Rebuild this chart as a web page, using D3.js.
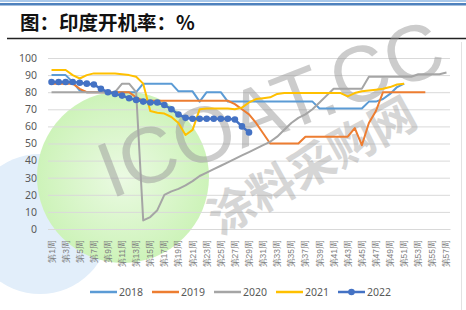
<!DOCTYPE html>
<html>
<head>
<meta charset="utf-8">
<script src="https://cdn.jsdelivr.net/npm/d3@7"></script>
<style>
  body { margin: 0; background: #fff; }
  svg { display: block; font-family: "Noto Sans CJK SC", "Noto Sans", sans-serif; }
</style>
</head>
<body>
<div id="chart"></div>
<script>
var weeks = [
  "第1周", "第2周", "第3周", "第4周", "第5周", "第6周", "第7周", "第8周", "第9周", "第10周",
  "第11周", "第12周", "第13周", "第14周", "第15周", "第16周", "第17周", "第18周", "第19周", "第20周",
  "第21周", "第22周", "第23周", "第24周", "第25周", "第26周", "第27周", "第28周", "第29周", "第30周",
  "第31周", "第32周", "第33周", "第34周", "第35周", "第36周", "第37周", "第38周", "第39周", "第40周",
  "第41周", "第42周", "第43周", "第44周", "第45周", "第46周", "第47周", "第48周", "第49周", "第50周",
  "第51周", "第52周", "第53周", "第54周", "第55周", "第56周", "第57周"
];
var yTicks = [0, 10, 20, 30, 40, 50, 60, 70, 80, 90, 100];
var years = ["2018", "2019", "2020", "2021", "2022"];

var v2018 = [90, 90, 90, 86, 81, 80, 80, 80, 80, 80,
  80, 80, 80, 85, 85, 85, 85, 85, 80.5, 80.5,
  80.5, 74.5, 80, 80, 80, 74.5, 74.5, 74.5, 74.5, 74.5,
  74.5, 74.5, 74.5, 74.5, 74.5, 74.5, 74.5, 74.5, 70.5, 70.5,
  70.5, 70.5, 70.5, 70.5, 70.5, 74.5, 74.5, 76, 79, 83,
  85];
var v2019 = [85, 85, 85, 85, 82, 80, 80, 80, 80, 80,
  80, 80, 77, 75, 75, 75, 75, 75, 75, 75,
  75, 75, 75, 75, 75, 75, 73, 70, 67, 62,
  56, 50, 50, 50, 50, 50, 54, 54, 54, 54,
  54, 54, 54, 59, 49, 62, 69, 80, 80, 80,
  80, 80, 80, 80];
var v2020 = [80, 80, 80, 80, 80, 80, 80, 80, 80, 80,
  85, 85, 80, 5, 7, 11, 20, 22, 23.5, 25.5,
  28, 31, 33, 35, 37, 39, 41, 43, 45, 47,
  49, 51, 54, 58, 62, 65, 67, 70, 74, 78,
  82, 82, 82, 82, 82, 89, 89, 89, 89, 89,
  89, 89, 90.5, 90.5, 90.5, 90.5, 91.5];
var v2021 = [93, 93, 93, 90, 88, 90, 91, 91, 91, 91,
  90.5, 90, 89, 85, 69, 68, 67.5, 65.5, 62, 55,
  58, 70, 70.5, 70.5, 70.5, 70.5, 70, 71, 74, 76,
  76.5, 77, 79, 79.5, 79.5, 79.5, 79.5, 79.5, 79.5, 79.5,
  79.5, 79.5, 77.5, 79.5, 80.5, 81, 81.5, 82, 83, 84.5,
  85];
var v2022 = [86, 86, 86, 86, 85.5, 85, 84.5, 82, 80, 79,
  78, 76.5, 75.5, 74.5, 74, 74, 72.5, 70, 67, 65,
  64.5, 64.5, 64.5, 64.5, 64.5, 64.5, 64, 60, 56.5];

var seriesValues = [v2018, v2019, v2020, v2021, v2022];
var colors = ["#5b9bd5", "#ed7d31", "#a5a5a5", "#ffc000", "#4472c4"];

var W = 466, H = 310;
var plot = { left: 48, right: 450, top: 58, bottom: 229 };

var svg = d3.select("#chart").append("svg")
  .attr("width", W)
  .attr("height", H);

// header band + title
svg.append("rect").attr("x", 0).attr("y", 0).attr("width", W).attr("height", 2).attr("fill", "#a9c8ea");
svg.append("rect").attr("x", 0).attr("y", 3).attr("width", W).attr("height", 2.5).attr("fill", "#4f81bd");
svg.append("text")
  .attr("x", 20).attr("y", 30)
  .attr("font-size", 19.5)
  .attr("font-weight", "bold")
  .attr("fill", "#111")
  .text("图：印度开机率：%");
svg.append("line")
  .attr("x1", 7).attr("x2", W).attr("y1", 38.5).attr("y2", 38.5)
  .attr("stroke", "#222").attr("stroke-width", 1.3);

// right border of chart area
svg.append("line")
  .attr("x1", 461.5).attr("x2", 461.5).attr("y1", 42).attr("y2", H)
  .attr("stroke", "#e2e2e2");

// background watermark circles
svg.append("circle").attr("cx", 40).attr("cy", 224).attr("r", 70).attr("fill", "#e2eefa");
var grad = svg.append("defs").append("radialGradient").attr("id", "gg");
grad.append("stop").attr("offset", "0%").attr("stop-color", "#ebfae3");
grad.append("stop").attr("offset", "100%").attr("stop-color", "#cdf3b9");
svg.append("circle").attr("cx", 123).attr("cy", 177).attr("r", 86).attr("fill", "url(#gg)");

var x = d3.scaleBand().domain(weeks).range([plot.left, plot.right]);
var y = d3.scaleLinear().domain([0, 100]).range([plot.bottom, plot.top]);

// y axis with gridlines
var yAxis = svg.append("g")
  .attr("transform", "translate(" + plot.left + ",0)")
  .call(d3.axisLeft(y).tickValues(yTicks).tickSize(-(plot.right - plot.left)).tickPadding(11));
yAxis.select(".domain").remove();
yAxis.selectAll("line").attr("stroke", "#d9d9d9");
yAxis.selectAll("text").attr("fill", "#595959").attr("font-size", 10.5).style("font-family", "'Noto Sans', sans-serif");

// x axis, every other week labelled
var xAxis = svg.append("g")
  .attr("transform", "translate(0," + plot.bottom + ")")
  .call(d3.axisBottom(x).tickValues(weeks.filter(function (d, i) { return i % 2 == 0; })).tickSize(0));
xAxis.select(".domain").attr("stroke", "#d9d9d9");
xAxis.selectAll("text")
  .attr("transform", "rotate(-90)")
  .attr("x", -11)
  .attr("y", 0)
  .attr("dy", "0.35em")
  .attr("text-anchor", "end")
  .attr("fill", "#7f7f7f")
  .attr("font-size", 8.5);

// watermark text
svg.append("text")
  .attr("transform", "translate(280,134) rotate(-21)")
  .attr("text-anchor", "middle")
  .attr("font-size", 79)
  .attr("font-family", "'Liberation Sans', sans-serif")
  .attr("fill", "#9a9a9a")
  .attr("opacity", 0.5)
  .text("ICOAT.CC");
svg.append("text")
  .attr("transform", "translate(320,180) rotate(-29)")
  .attr("text-anchor", "middle")
  .attr("font-size", 46)
  .attr("font-weight", "bold")
  .attr("fill", "#9a9a9a")
  .attr("opacity", 0.4)
  .text("涂料采购网");

var line = d3.line()
  .x(function (d, i) { return x(weeks[i]) + x.bandwidth() / 2; })
  .y(function (d) { return y(d); });

svg.append("g").selectAll("path")
  .data(seriesValues)
  .enter()
  .append("path")
  .attr("d", function (d) { return line(d); })
  .attr("fill", "none")
  .attr("stroke", function (d, i) { return colors[i]; })
  .attr("stroke-width", function (d, i) { return i == 4 ? 2.5 : 2; })
  .attr("stroke-linejoin", "round");

svg.append("g").selectAll("circle")
  .data(v2022)
  .enter()
  .append("circle")
  .attr("cx", function (d, i) { return x(weeks[i]) + x.bandwidth() / 2; })
  .attr("cy", function (d) { return y(d); })
  .attr("r", 3.3)
  .attr("fill", colors[4]);

// legend
var legend = svg.append("g").selectAll("g")
  .data(years)
  .enter()
  .append("g")
  .attr("transform", function (d, i) { return "translate(" + (90 + i * 62) + ",292)"; });
legend.append("line")
  .attr("x1", 0).attr("x2", 27)
  .attr("stroke", function (d, i) { return colors[i]; })
  .attr("stroke-width", 2.5);
legend.filter(function (d) { return d == "2022"; })
  .append("circle").attr("cx", 13.5).attr("r", 3.3).attr("fill", colors[4]);
legend.append("text")
  .attr("x", 29)
  .attr("dy", "0.35em")
  .attr("font-size", 10.5)
  .attr("fill", "#595959")
  .style("font-family", "'Noto Sans', sans-serif")
  .text(function (d) { return d; });
</script>
</body>
</html>
